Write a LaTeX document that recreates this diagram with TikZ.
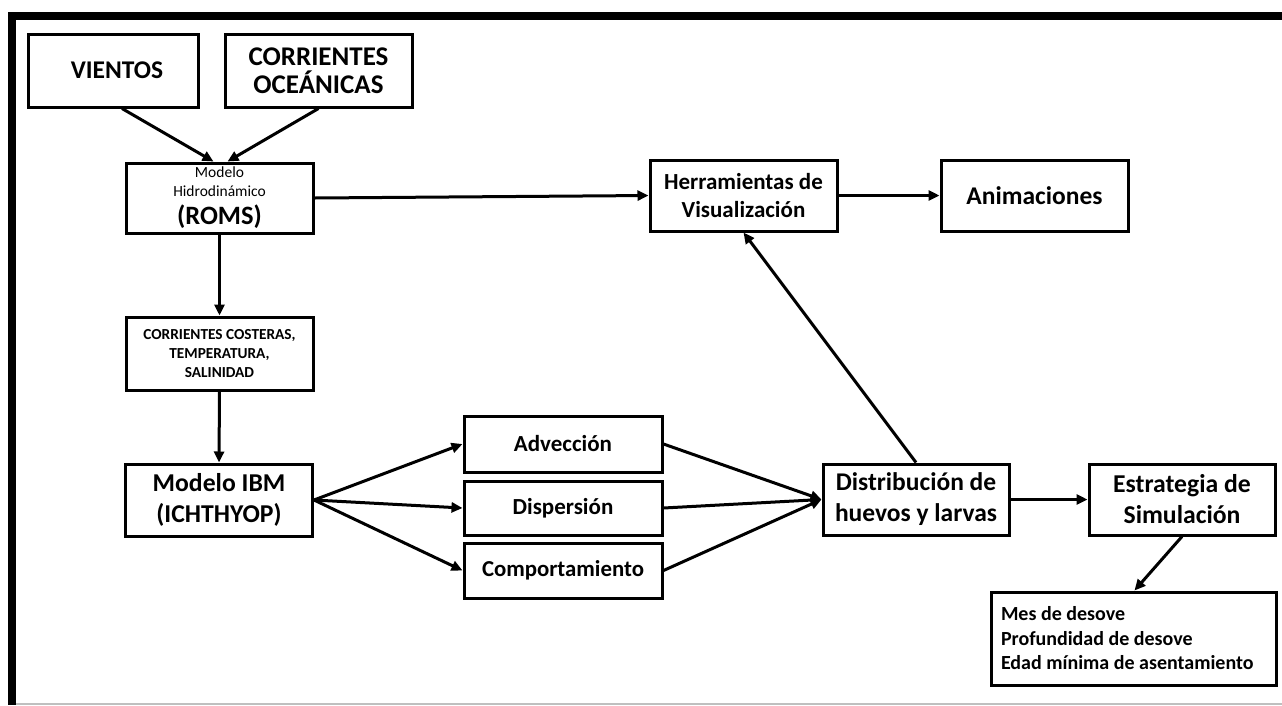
\documentclass[tikz,border=0pt]{standalone}
\usepackage{fontspec}
\setmainfont{Carlito}
\usetikzlibrary{arrows.meta}
\tikzset{
  bx/.style={draw=black, line width=3pt, rectangle, inner sep=0pt, align=center, font=\bfseries},
  arr/.style={line width=3pt, -{Triangle[length=11pt,width=10pt]}},
}
\begin{document}
\begin{tikzpicture}[x=1pt,y=-1pt]
\useasboundingbox (0,0) rectangle (1282,705);
% frame
\fill[black] (8,12) rectangle (1282,20);
\fill[black] (8,12) rectangle (16,705);
\draw[gray!50, line width=1.5pt] (16,704) -- (1282,704);

\node[bx, minimum width=170pt, minimum height=73pt, font=\bfseries\fontsize{25.5}{29}\selectfont] (vientos) at (113,70.5) {\hspace*{8pt}VIENTOS};
\node[bx, minimum width=187pt, minimum height=73pt, font=\bfseries\fontsize{27}{28.5}\selectfont] (oceanicas) at (318.5,70.5) {CORRIENTES\\OCEÁNICAS};
\node[bx, minimum width=187pt, minimum height=70pt, font=\bfseries\fontsize{26.5}{28}\selectfont] (roms) at (219.5,198) {{\mdseries\fontsize{15.5}{19}\selectfont Modelo}\\[-9pt]{\mdseries\fontsize{15.5}{19}\selectfont Hidrodinámico}\\(ROMS)};
\node[bx, minimum width=187pt, minimum height=73pt, font=\bfseries\fontsize{15.3}{19}\selectfont] (costeras) at (219.5,353.5) {CORRIENTES COSTERAS,\\TEMPERATURA,\\SALINIDAD};
\node[bx, minimum width=187pt, minimum height=72pt, font=\bfseries\fontsize{25.7}{31.5}\selectfont] (ibm) at (219,500) {Modelo IBM\\(ICHTHYOP)};
\node[bx, minimum width=198pt, minimum height=56pt, font=\bfseries\fontsize{23}{25}\selectfont] (advec) at (563,444) {Advección};
\node[bx, minimum width=198pt, minimum height=54pt, font=\bfseries\fontsize{23}{25}\selectfont] (disp) at (563,508) {Dispersión};
\node[bx, minimum width=198pt, minimum height=55pt, font=\bfseries\fontsize{22.8}{25}\selectfont] (comp) at (563,570.5) {Comportamiento};
\node[bx, minimum width=186pt, minimum height=71pt, font=\bfseries\fontsize{25.5}{31}\selectfont] (distr) at (916,499.5) {Distribución de\\huevos y larvas};
\node[bx, minimum width=186pt, minimum height=71pt, font=\bfseries\fontsize{25.7}{31}\selectfont] (estr) at (1182,499.5) {Estrategia de\\Simulación};
\node[bx, minimum width=285pt, minimum height=93pt, align=left, font=\bfseries\fontsize{20}{24.5}\selectfont] (mes) at (1133.5,638.5) {\begin{minipage}{265pt}Mes de desove\\Profundidad de desove\\Edad mínima de asentamiento\end{minipage}};
\node[bx, minimum width=187pt, minimum height=71pt, font=\bfseries\fontsize{23}{28}\selectfont] (herr) at (743.5,195.5) {Herramientas de\\Visualización};
\node[bx, minimum width=187pt, minimum height=71pt, font=\bfseries\fontsize{25.5}{28}\selectfont] (anim) at (1034.5,195.5) {Animaciones};

\draw[arr] (vientos.south) ++(9,0) coordinate (v1) -- ([xshift=-6pt]roms.north);
\draw[arr] (oceanicas.south) -- ([xshift=8pt]roms.north);
\draw[arr] (roms.east) -- (herr.west);
\draw[arr] (herr.east) -- (anim.west);
\draw[arr] (roms.south) -- (costeras.north);
\draw[arr] (costeras.south) -- (ibm.north);
\draw[arr] (ibm.east) -- (advec.west);
\draw[arr] (ibm.east) -- (disp.west);
\draw[arr] (ibm.east) -- (comp.west);
\draw[arr] (advec.east) -- (distr.west);
\draw[arr] (disp.east) -- (distr.west);
\draw[arr] (comp.east) -- (distr.west);
\draw[arr] (distr.north) -- (herr.south);
\draw[arr] (distr.east) -- (estr.west);
\draw[arr] (estr.south) -- ([xshift=1pt]mes.north);
\end{tikzpicture}
\end{document}
